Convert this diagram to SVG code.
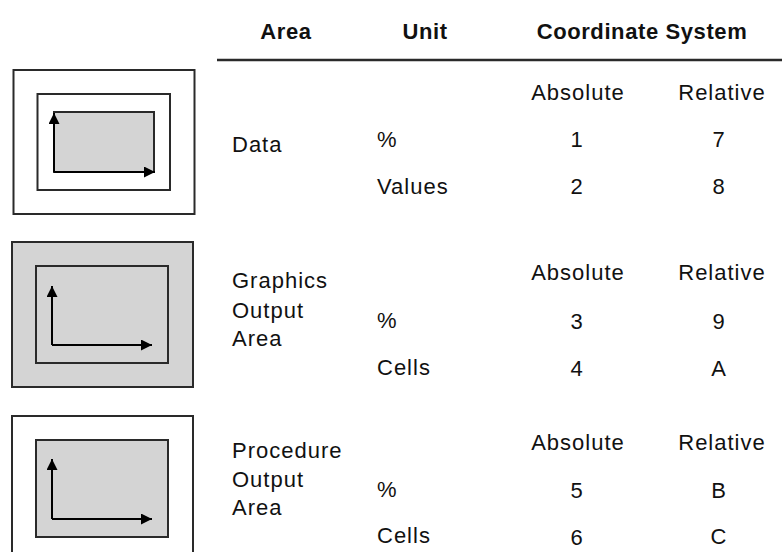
<svg xmlns="http://www.w3.org/2000/svg" width="782" height="552" viewBox="0 0 782 552">
  <style>
    .box { fill: none; stroke: #2a2a2a; stroke-width: 2; }
    .gray { fill: #d4d4d4; }
    .axis { fill: none; stroke: #000; stroke-width: 2; }
    text { font-family: "Liberation Sans", Arial, sans-serif; font-size: 22px; fill: #111; letter-spacing: 1px; }
    .hdr { font-weight: bold; letter-spacing: 0.6px; }
    .c { text-anchor: middle; }
  </style>
  <defs>
    <marker id="ah" viewBox="0 0 11 11" refX="11" refY="5.5" markerWidth="11" markerHeight="11" markerUnits="userSpaceOnUse" orient="auto">
      <path d="M0,0 L11,5.5 L0,11 Z" fill="#000"/>
    </marker>
  </defs>
  <rect width="782" height="552" fill="#fff"/>

  <g id="header">
    <text class="hdr c" x="286" y="39">Area</text>
    <text class="hdr c" x="425" y="39">Unit</text>
    <text class="hdr c" x="642" y="39">Coordinate System</text>
    <line x1="217" y1="60" x2="782" y2="60" stroke="#2a2a2a" stroke-width="2.5"/>
  </g>

  <g id="icon-data">
    <rect class="box" x="13.5" y="70" width="181" height="144"/>
    <rect class="box" x="37.5" y="94" width="132.5" height="96"/>
    <rect class="box gray" x="54" y="112" width="100" height="60"/>
    <g id="axes-data">
      <path class="axis" d="M54,172 L54,113" marker-end="url(#ah)"/>
      <path class="axis" d="M54,172 L155,172" marker-end="url(#ah)"/>
    </g>
  </g>

  <g id="icon-graphics">
    <rect class="box gray" x="12" y="242" width="181" height="145"/>
    <rect class="box" x="36" y="266" width="132" height="97"/>
    <g id="axes-graphics">
      <path class="axis" d="M52,345 L52,286" marker-end="url(#ah)"/>
      <path class="axis" d="M52,345 L152,345" marker-end="url(#ah)"/>
    </g>
  </g>

  <g id="icon-procedure">
    <rect class="box" x="12" y="416" width="181" height="145"/>
    <rect class="box gray" x="36" y="440" width="132" height="97"/>
    <g id="axes-procedure">
      <path class="axis" d="M52,519 L52,459" marker-end="url(#ah)"/>
      <path class="axis" d="M52,519 L152,519" marker-end="url(#ah)"/>
    </g>
  </g>

  <g id="row-data">
    <text x="232" y="152">Data</text>
    <text class="c" x="578" y="100">Absolute</text>
    <text class="c" x="722" y="100">Relative</text>
    <text x="377" y="147">%</text>
    <text class="c" x="577" y="147">1</text>
    <text class="c" x="719" y="147">7</text>
    <text x="377" y="194">Values</text>
    <text class="c" x="577" y="194">2</text>
    <text class="c" x="719" y="194">8</text>
  </g>

  <g id="row-graphics">
    <text x="232" y="288">Graphics</text>
    <text x="232" y="318">Output</text>
    <text x="232" y="346">Area</text>
    <text class="c" x="578" y="280">Absolute</text>
    <text class="c" x="722" y="280">Relative</text>
    <text x="377" y="328">%</text>
    <text class="c" x="577" y="329">3</text>
    <text class="c" x="719" y="329">9</text>
    <text x="377" y="375">Cells</text>
    <text class="c" x="577" y="376">4</text>
    <text class="c" x="719" y="376">A</text>
  </g>

  <g id="row-procedure">
    <text x="232" y="458">Procedure</text>
    <text x="232" y="487">Output</text>
    <text x="232" y="515">Area</text>
    <text class="c" x="578" y="450">Absolute</text>
    <text class="c" x="722" y="450">Relative</text>
    <text x="377" y="497">%</text>
    <text class="c" x="577" y="498">5</text>
    <text class="c" x="719" y="498">B</text>
    <text x="377" y="543">Cells</text>
    <text class="c" x="577" y="545">6</text>
    <text class="c" x="719" y="544">C</text>
  </g>
</svg>
